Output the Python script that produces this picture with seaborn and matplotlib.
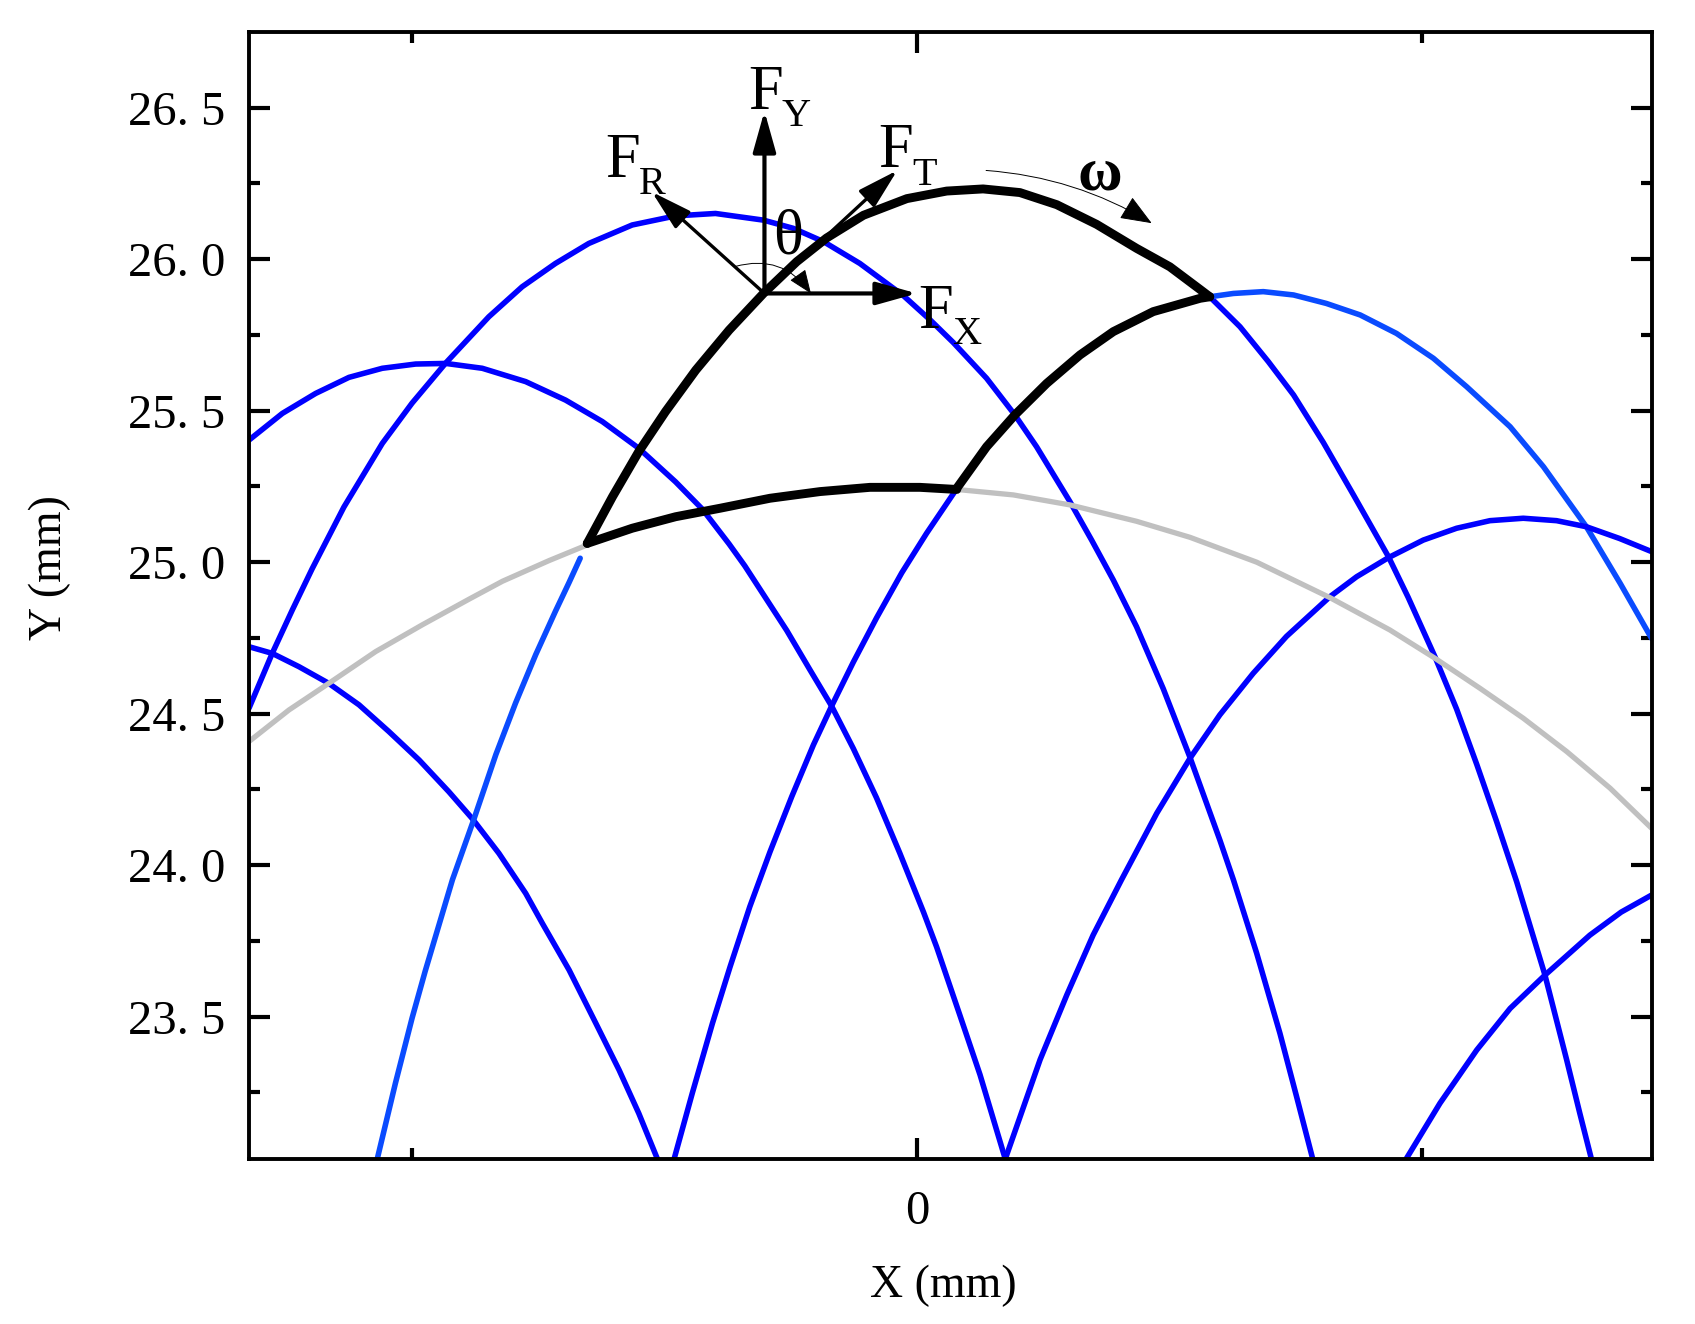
import matplotlib
matplotlib.use("Agg")
import matplotlib.pyplot as plt
import seaborn as sns

# blue tooth flanks
a_x = [-1.323, -1.277, -1.237, -1.198, -1.135, -1.059, -1.000, -0.933, -0.848, -0.782, -0.716, -0.650, -0.564, -0.478, -0.399, -0.304, -0.245, -0.185, -0.113, -0.027, 0.026, 0.072, 0.138, 0.194, 0.237, 0.303, 0.346, 0.389, 0.435, 0.488, 0.541, 0.600, 0.627, 0.673, 0.719, 0.752, 0.784]
a_y = [24.518, 24.699, 24.843, 24.978, 25.182, 25.392, 25.525, 25.658, 25.810, 25.909, 25.986, 26.052, 26.113, 26.143, 26.151, 26.129, 26.102, 26.058, 25.986, 25.880, 25.800, 25.725, 25.607, 25.486, 25.381, 25.200, 25.073, 24.941, 24.787, 24.582, 24.355, 24.083, 23.951, 23.709, 23.445, 23.236, 23.030]
b_x = [-1.323, -1.257, -1.191, -1.125, -1.059, -0.993, -0.933, -0.861, -0.775, -0.696, -0.623, -0.551, -0.478, -0.425, -0.372, -0.341, -0.258, -0.212, -0.169, -0.126, -0.080, -0.034, 0.013, 0.039, 0.085, 0.125, 0.175]
b_y = [25.403, 25.491, 25.557, 25.610, 25.640, 25.654, 25.656, 25.640, 25.596, 25.535, 25.464, 25.376, 25.265, 25.175, 25.060, 24.988, 24.775, 24.645, 24.525, 24.385, 24.222, 24.040, 23.845, 23.730, 23.505, 23.308, 23.030]
c_x = [-1.323, -1.277, -1.224, -1.165, -1.105, -1.046, -0.986, -0.927, -0.881, -0.828, -0.775, -0.742, -0.689, -0.636, -0.590, -0.551, -0.514]
c_y = [24.721, 24.699, 24.655, 24.600, 24.529, 24.441, 24.347, 24.242, 24.154, 24.039, 23.907, 23.808, 23.654, 23.478, 23.324, 23.181, 23.030]
d_x = [-1.069, -1.033, -1.000, -0.974, -0.920, -0.877, -0.834, -0.795, -0.755, -0.716, -0.689, -0.667]
d_y = [23.030, 23.280, 23.495, 23.650, 23.952, 24.154, 24.365, 24.535, 24.695, 24.838, 24.933, 25.013]
a2_x = [0.580, 0.640, 0.696, 0.746, 0.805, 0.864, 0.934, 0.973, 1.026, 1.069, 1.109, 1.148, 1.188, 1.244, 1.287, 1.313, 1.336]
a2_y = [25.876, 25.777, 25.662, 25.552, 25.395, 25.224, 25.018, 24.884, 24.688, 24.515, 24.332, 24.145, 23.945, 23.637, 23.357, 23.181, 23.030]
e_x = [-0.481, -0.445, -0.405, -0.370, -0.331, -0.291, -0.248, -0.205, -0.169, -0.126, -0.080, -0.030, 0.019, 0.077]
e_y = [23.030, 23.247, 23.478, 23.665, 23.863, 24.044, 24.226, 24.397, 24.525, 24.670, 24.816, 24.965, 25.095, 25.238]
e2_x = [0.580, 0.627, 0.686, 0.746, 0.811, 0.878, 0.950, 1.023, 1.089, 1.175, 1.241, 1.326, 1.393, 1.455]
e2_y = [25.876, 25.887, 25.893, 25.882, 25.854, 25.816, 25.755, 25.673, 25.579, 25.447, 25.315, 25.117, 24.930, 24.749]
f_x = [0.175, 0.244, 0.297, 0.349, 0.405, 0.475, 0.541, 0.600, 0.666, 0.732, 0.818, 0.871, 0.934, 1.003, 1.069, 1.135, 1.201, 1.267, 1.326, 1.392, 1.455]
f_y = [23.030, 23.358, 23.572, 23.769, 23.951, 24.171, 24.353, 24.496, 24.633, 24.755, 24.886, 24.952, 25.015, 25.073, 25.112, 25.137, 25.145, 25.137, 25.117, 25.078, 25.035]
g_x = [0.969, 1.036, 1.109, 1.175, 1.244, 1.333, 1.395, 1.455]
g_y = [23.030, 23.214, 23.390, 23.527, 23.637, 23.769, 23.845, 23.901]

# tip circle, grey outside the tooth
gl_x = [-1.323, -1.244, -1.165, -1.072, -0.980, -0.887, -0.821, -0.729, -0.653]
gl_y = [24.408, 24.512, 24.600, 24.705, 24.793, 24.878, 24.937, 25.005, 25.057]
gr_x = [0.079, 0.191, 0.303, 0.435, 0.541, 0.673, 0.818, 0.937, 1.026, 1.115, 1.201, 1.287, 1.373, 1.455]
gr_y = [25.240, 25.222, 25.189, 25.135, 25.082, 25.000, 24.883, 24.776, 24.683, 24.584, 24.485, 24.375, 24.254, 24.122]

# the highlighted tooth
k1_x = [-0.653, -0.603, -0.551, -0.498, -0.438, -0.372, -0.304, -0.238, -0.179, -0.106, -0.020, 0.059, 0.131, 0.204, 0.277, 0.356, 0.435, 0.501, 0.561, 0.580]
k1_y = [25.062, 25.216, 25.365, 25.497, 25.634, 25.766, 25.887, 25.992, 26.070, 26.145, 26.200, 26.225, 26.232, 26.220, 26.180, 26.115, 26.036, 25.975, 25.900, 25.876]
k2_x = [0.079, 0.138, 0.194, 0.257, 0.323, 0.389, 0.468, 0.561, 0.580]
k2_y = [25.244, 25.381, 25.486, 25.590, 25.684, 25.761, 25.827, 25.871, 25.876]
k3_x = [-0.653, -0.564, -0.478, -0.390, -0.291, -0.192, -0.093, 0.006, 0.079]
k3_y = [25.062, 25.112, 25.150, 25.178, 25.211, 25.233, 25.247, 25.247, 25.240]

y_ticks = [23.5, 24.0, 24.5, 25.0, 25.5, 26.0, 26.5]
y_labels = ["23. 5", "24. 0", "24. 5", "25. 0", "25. 5", "26. 0", "26. 5"]
y_minor = [23.25, 23.75, 24.25, 24.75, 25.25, 25.75, 26.25]

sns.set_style("ticks")
plt.rcParams["font.family"] = ["Liberation Serif", "DejaVu Serif"]

fig = plt.figure(figsize=(16.95, 13.24), dpi=100)
ax = fig.add_axes([249 / 1695, 1 - 1159 / 1324, 1403 / 1695, 1127 / 1324])

for xs, ys, col in [(a_x, a_y, "#0000ff"), (b_x, b_y, "#0000ff"), (c_x, c_y, "#0000ff"),
                    (d_x, d_y, "#0a4bff"), (a2_x, a2_y, "#0000ff"), (e_x, e_y, "#0000ff"),
                    (e2_x, e2_y, "#0a4bff"), (f_x, f_y, "#0000ff"), (g_x, g_y, "#0000ff")]:
    sns.lineplot(x=xs, y=ys, sort=False, estimator=None, color=col, linewidth=4, ax=ax)
for xs, ys in [(gl_x, gl_y), (gr_x, gr_y)]:
    sns.lineplot(x=xs, y=ys, sort=False, estimator=None, color="#c0c0c0", linewidth=3.8, ax=ax)
for xs, ys in [(k1_x, k1_y), (k2_x, k2_y), (k3_x, k3_y)]:
    sns.lineplot(x=xs, y=ys, sort=False, estimator=None, color="black", linewidth=6.4, ax=ax)

ax.set_xlim(-1.323, 1.456)
ax.set_ylim(23.03, 26.75)
ax.set_xticks([0])
ax.set_xticks([-1, 1], minor=True)
ax.set_yticks(y_ticks, y_labels)
ax.set_yticks(y_minor, minor=True)
ax.tick_params(which="major", direction="in", top=True, right=True, length=15, width=3, color="black", labelsize=35, labelcolor="black")
ax.tick_params(which="minor", direction="in", top=True, right=True, length=8, width=3, color="black")
ax.tick_params(axis="y", which="major", pad=17)
ax.tick_params(axis="x", which="major", pad=22)
for s in ax.spines.values():
    s.set_linewidth(2.8)
    s.set_color("black")

ax.set_xlabel("X (mm)", fontsize=33, color="black")
ax.set_ylabel("Y (mm)", fontsize=33, color="black")
ax.xaxis.set_label_coords(0.495, -0.094)
ax.yaxis.set_label_coords(-0.127, 0.525)

# force arrows
origin = (-0.302, 25.887)
for tip, w in [((-0.302, 26.489), 3), ((0.0, 25.887), 3), ((-0.039, 26.293), 2.4), ((-0.525, 26.222), 2.4)]:
    ax.annotate("", xy=tip, xytext=origin, zorder=6,
                arrowprops=dict(arrowstyle="-|>,head_length=1,head_width=0.28", mutation_scale=25, color="black", lw=w, shrinkA=0, shrinkB=0))

# rotation arcs
thin = dict(arrowstyle="-|>,head_length=1,head_width=0.4", mutation_scale=15, color="black", lw=0.7, shrinkA=0, shrinkB=0)
ax.annotate("", xy=(-0.210, 25.887), xytext=(-0.360, 25.976), arrowprops=dict(thin, connectionstyle="arc3,rad=-0.35"), zorder=6)
ax.annotate("", xy=(0.465, 26.119), xytext=(0.137, 26.293), arrowprops=dict(thin, mutation_scale=20, connectionstyle="arc3,rad=-0.12"), zorder=6)

for txt, x, y, size in [("F", -0.300, 26.545, 45), ("Y", -0.239, 26.472, 29),
                        ("F", -0.582, 26.322, 45), ("R", -0.524, 26.247, 29),
                        ("F", -0.043, 26.353, 45), ("T", 0.016, 26.277, 29),
                        ("F", 0.038, 25.824, 45), ("X", 0.099, 25.752, 29),
                        ("θ", -0.255, 26.069, 45)]:
    ax.text(x, y, txt, fontsize=size, ha="center", va="center", color="black", zorder=7)
ax.text(0.362, 26.279, "ω", fontsize=44, fontweight="bold", ha="center", va="center", color="black", zorder=7)

fig.savefig("out.png", dpi=100)
